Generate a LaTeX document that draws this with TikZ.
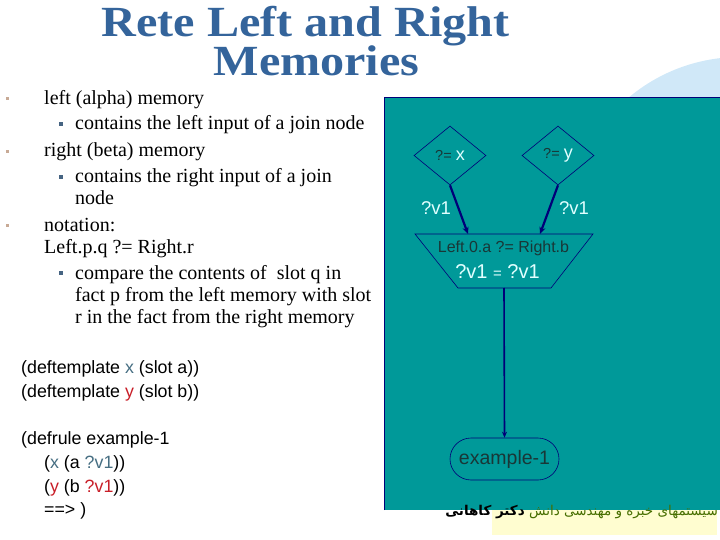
\documentclass[tikz,border=0pt]{standalone}
\usepackage{graphicx}
\usepackage{fontspec}
\setmainfont{Liberation Serif}
\setsansfont{Liberation Sans}
\newfontfamily\arabicfont[Script=Arabic]{DejaVu Sans}
\TeXXeTstate=1
\usetikzlibrary{shapes.geometric,shapes.misc,arrows.meta,calc}
\definecolor{titleblue}{RGB}{52,100,155}
\definecolor{tealbg}{RGB}{0,153,153}
\definecolor{navy}{RGB}{0,0,120}
\definecolor{lightcyan}{RGB}{225,255,255}
\definecolor{darktxt}{RGB}{25,55,55}
\definecolor{skyblue}{RGB}{208,232,248}
\definecolor{paleyellow}{RGB}{255,253,208}
\definecolor{tanbullet}{RGB}{200,170,150}
\definecolor{subbullet}{RGB}{70,100,130}
\definecolor{codex}{RGB}{70,110,130}
\definecolor{codey}{RGB}{200,30,40}
\definecolor{footblue}{RGB}{60,90,130}
\definecolor{footgreen}{RGB}{70,110,0}
\tikzset{
  titletxt/.style={text=titleblue, font=\bfseries\fontsize{43}{38}\selectfont, inner sep=0pt, anchor=base},
  bodytxt/.style={anchor=base west, inner sep=0pt, font=\fontsize{20}{22}\selectfont},
  codetxt/.style={anchor=base west, inner sep=0pt, font=\sffamily\fontsize{17.8}{19}\selectfont},
  mainbul/.style={fill=tanbullet, draw=none, minimum size=3pt, inner sep=0pt},
  subbul/.style={fill=subbullet, draw=none, minimum size=4pt, inner sep=0pt},
  cond/.style={diamond, draw=navy, line width=0.6pt, minimum width=72pt, minimum height=59pt, inner sep=0pt, font=\sffamily},
  lbl/.style={text=lightcyan, font=\sffamily\fontsize{18.5}{20}\selectfont, inner sep=0pt},
  arr/.style={draw=navy, line width=2.2pt, -{Stealth[length=7pt,width=6pt]}},
}
\begin{document}
\begin{tikzpicture}[x=1pt,y=-1pt]
\useasboundingbox (0,0) rectangle (720,540);
% background decorations
\begin{scope}
\clip (0,0) rectangle (720,540);
\fill[skyblue] (740,230) circle (173);
\end{scope}
\fill[paleyellow] (492,510) rectangle (717,535);
% teal panel
\fill[tealbg] (384,97) rectangle (720,510);
\draw[navy, line width=0.8pt] (384,510) -- (384,97) -- (720,97);
% footer
\node[anchor=east, inner sep=0pt, text=footblue] (foot) at (718,512)
  {\arabicfont\fontsize{13.5}{15}\selectfont\beginR سیستمهای خبره و مهندسی دانش \textcolor{footgreen}{\bfseries دکتر کاهانی}\endR};
% title
\node[titletxt] (title1) at (305.5,37) {\scalebox{1.12}[1]{Rete Left and Right}};
\node[titletxt] (title2) at (316.5,76) {\scalebox{1.12}[1]{Memories}};
% bullet text
\node[mainbul] (b1) at (7,99) {};
\node[bodytxt] (t1) at (44,105) {left (alpha) memory};
\node[subbul] (s1) at (61,124) {};
\node[bodytxt] (t2) at (75,130) {contains the left input of a join node};
\node[mainbul] (b2) at (7,152) {};
\node[bodytxt] (t3) at (44,157) {right (beta) memory};
\node[subbul] (s2) at (61,177) {};
\node[bodytxt] (t4) at (75,183) {contains the right input of a join};
\node[bodytxt] (t5) at (75,205) {node};
\node[mainbul] (b3) at (7,226) {};
\node[bodytxt] (t6) at (44,231) {notation:};
\node[bodytxt] (t7) at (44,253) {Left.p.q ?= Right.r};
\node[subbul] (s3) at (61,273) {};
\node[bodytxt] (t8) at (75,279) {compare the contents of \ slot q in};
\node[bodytxt] (t9) at (75,301) {fact p from the left memory with slot};
\node[bodytxt] (t10) at (75,323) {r in the fact from the right memory};
% code
\node[codetxt] (c1) at (21,373) {(deftemplate {\color{codex}x} (slot a))};
\node[codetxt] (c2) at (21,397) {(deftemplate {\color{codey}y} (slot b))};
\node[codetxt] (c3) at (21,444) {(defrule example-1};
\node[codetxt] (c4) at (44,468) {({\color{codex}x} (a {\color{codex}?v1}))};
\node[codetxt] (c5) at (44,492) {({\color{codey}y} (b {\color{codey}?v1}))};
\node[codetxt] (c6) at (44,515) {==> )};
% rete network
\node[cond] (dx) at (450,155.5) {{\color{darktxt}\fontsize{14.5}{16}\selectfont ?= }{\color{lightcyan}\fontsize{18}{20}\selectfont x}};
\node[cond] (dy) at (558,155.5) {{\color{darktxt}\fontsize{14.5}{16}\selectfont ?= }{\color{lightcyan}\fontsize{18}{20}\selectfont y}};
\draw[navy, line width=0.6pt] (415,234) -- (593,234) -- (551,288) -- (458,288) -- cycle;
\coordinate (jb) at (504,288);
\node[inner sep=0pt, text=darktxt, font=\sffamily\fontsize{16}{18}\selectfont] (jt1) at (503.5,248) {Left.0.a ?= Right.b};
\node[inner sep=0pt, text=lightcyan, font=\sffamily\fontsize{20}{22}\selectfont] (jt2) at (497.5,272) {?v1 {\fontsize{15}{17}\selectfont =} ?v1};
\coordinate (jl) at (468,234);
\coordinate (jr) at (540,234);
\draw[arr] (dx.south) -- (jl);
\draw[arr] (dy.south) -- (jr);
\node[lbl] (lv1) at (436,208) {?v1};
\node[lbl] (lv2) at (574,208) {?v1};
\node[rounded rectangle, draw=navy, line width=0.6pt, minimum width=109pt, minimum height=42pt, inner sep=0pt, text=darktxt, font=\sffamily\fontsize{19.5}{21}\selectfont] (ex) at (504.5,459) {example-1};
\draw[draw=navy, line width=1.6pt, -{Stealth[length=6pt,width=5pt]}] (jb) -- (ex.north);
\end{tikzpicture}
\end{document}
